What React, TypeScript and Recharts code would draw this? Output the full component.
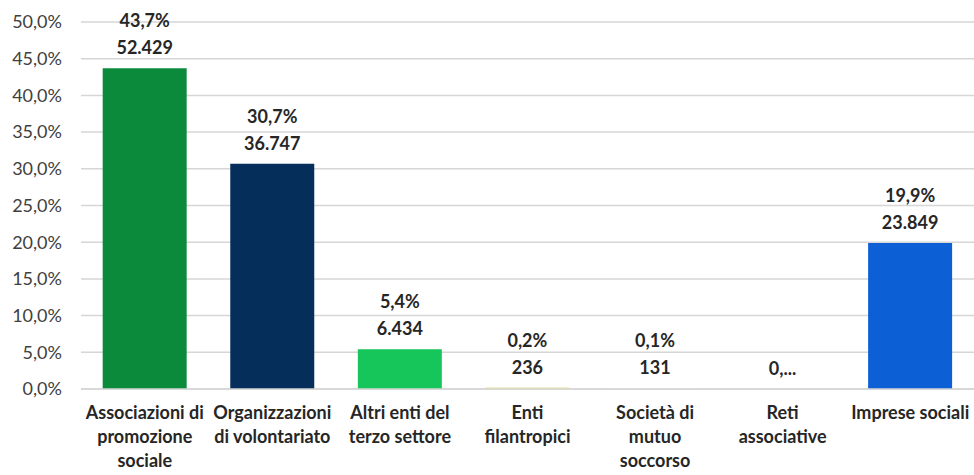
import { BarChart, Bar, XAxis, YAxis, CartesianGrid, Cell, LabelList } from 'recharts';

const categories = [
  'Associazioni di|promozione|sociale',
  'Organizzazioni|di volontariato',
  'Altri enti del|terzo settore',
  'Enti|filantropici',
  'Società di|mutuo|soccorso',
  'Reti|associative',
  'Imprese sociali',
];
// Reti associative: percent too small to read ("0,..."), estimated
const percents = [43.7, 30.7, 5.4, 0.2, 0.1, 0.04, 19.9];
const pctLabels = ['43,7%', '30,7%', '5,4%', '0,2%', '0,1%', '', '19,9%'];
const countLabels = ['52.429', '36.747', '6.434', '236', '131', '0,...', '23.849'];
const colors = ['#0b8a3c', '#062e5a', '#16c65b', '#ece29a', '#e9e9e9', '#dedede', '#0d5fd6'];
const yTicks = [0, 5, 10, 15, 20, 25, 30, 35, 40, 45, 50];

const data = categories.map((c, i) => ({
  name: c,
  value: percents[i],
  pct: pctLabels[i],
  count: countLabels[i],
}));

const FONT = 'Lato, "Liberation Sans", sans-serif';

function XTick(props: any) {
  const { x, y, payload } = props;
  const lines = String(payload.value).split('|');
  return (
    <text x={x} y={y} textAnchor="middle" fontFamily={FONT} fontWeight={700} fontSize={18} fill="#262626">
      {lines.map((l, i) => (
        <tspan key={i} x={x} dy={i === 0 ? 22 : 24}>
          {l}
        </tspan>
      ))}
    </text>
  );
}

function makeLabel(offset: number) {
  return (props: any) => {
    const { x, y, width, value } = props;
    if (!value) return null;
    return (
      <text
        x={x + width / 2}
        y={y - offset}
        textAnchor="middle"
        fontFamily={FONT}
        fontWeight={700}
        fontSize={18}
        fill="#262626"
      >
        {value}
      </text>
    );
  };
}

export default function App() {
  return (
    <div style={{ position: 'absolute', left: 0, top: 0, background: '#fff' }}>
      <BarChart
        width={974}
        height={475}
        data={data}
        margin={{ top: 22, right: 0, left: 0, bottom: 0 }}
        barCategoryGap="17%"
      >
        <CartesianGrid vertical={false} stroke="#d6d6d6" strokeWidth={1.5} />
        <XAxis
          dataKey="name"
          tick={<XTick />}
          tickLine={false}
          axisLine={{ stroke: '#d6d6d6', strokeWidth: 1.5 }}
          interval={0}
          height={86}
        />
        <YAxis
          domain={[0, 50]}
          ticks={yTicks}
          width={81}
          tickSize={0}
          tickMargin={19}
          axisLine={false}
          tickLine={false}
          tickFormatter={(v: number) => `${v.toFixed(1).replace('.', ',')}%`}
          tick={{ fontFamily: FONT, fontSize: 18, fill: '#404040' }}
        />
        <Bar dataKey="value" isAnimationActive={false}>
          {data.map((_, i) => (
            <Cell key={i} fill={colors[i]} />
          ))}
          <LabelList dataKey="count" content={makeLabel(14)} />
          <LabelList dataKey="pct" content={makeLabel(41)} />
        </Bar>
      </BarChart>
    </div>
  );
}
